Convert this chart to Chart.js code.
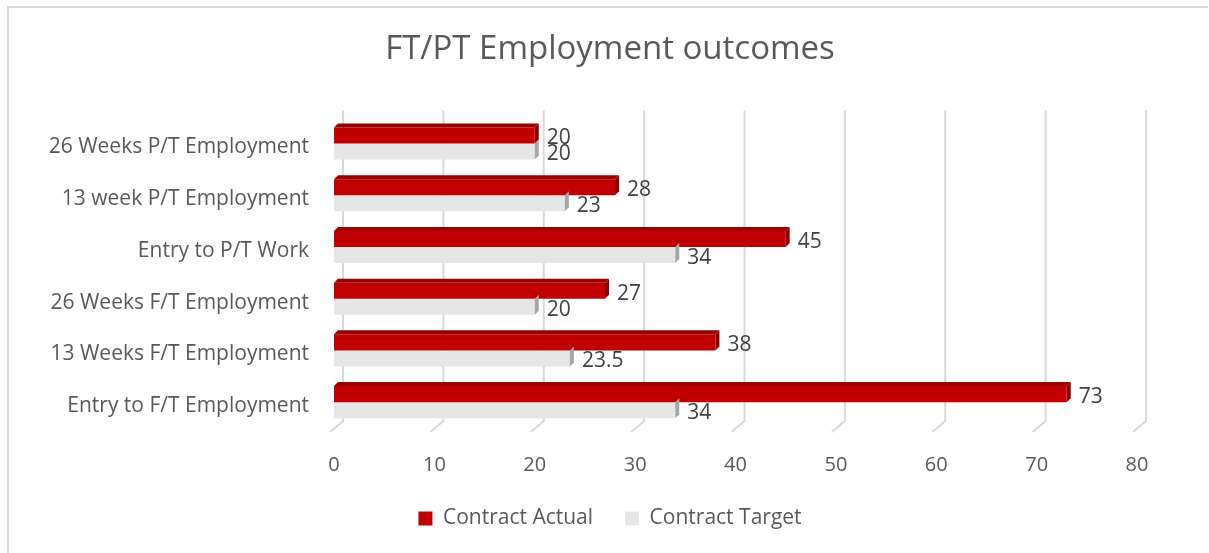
<!DOCTYPE html>
<html>
<head>
<meta charset="utf-8">
<script src="https://cdn.jsdelivr.net/npm/chart.js@4.4.1/dist/chart.umd.min.js"></script>
<style>
  html, body { margin: 0; padding: 0; background: #fff; overflow: hidden; }
  #wrap { position: relative; width: 1209px; height: 553px; }
  #frame { position: absolute; left: 7px; top: 6px; width: 1201px; height: 547px;
           border-left: 2px solid #d9d9d9; border-top: 2px solid #d9d9d9; box-sizing: border-box; }
  canvas { position: absolute; left: 0; top: 0; }
</style>
</head>
<body>
<div id="wrap">
  <div id="frame"></div>
  <canvas id="myChart" width="1209" height="553"></canvas>
</div>
<script>
  const categories = [
    '26 Weeks P/T Employment',
    '13 week P/T Employment',
    'Entry to P/T Work',
    '26 Weeks F/T Employment',
    '13 Weeks F/T Employment',
    'Entry to F/T Employment'
  ];
  const contractActual = [20, 28, 45, 27, 38, 73];
  const contractTarget = [20, 23, 34, 20, 23.5, 34];
  const xTicks = [0, 10, 20, 30, 40, 50, 60, 70, 80];

  const FONT = "'Open Sans', sans-serif";
  const DEPTH = 4;

  // 3D風のグリッド線（奥の壁）
  const gridPlugin = {
    id: 'grid3d',
    beforeDatasetsDraw(chart) {
      const ctx = chart.ctx;
      const a = chart.chartArea;
      const xs = chart.scales.x;
      ctx.save();
      ctx.strokeStyle = '#d9d9d9';
      ctx.lineWidth = 2;
      xTicks.forEach(v => {
        const x = xs.getPixelForValue(v);
        ctx.beginPath();
        ctx.moveTo(x + 9, a.top - 7);
        ctx.lineTo(x + 9, a.bottom - 7);
        ctx.lineTo(x - 4, a.bottom + 4);
        ctx.stroke();
      });
      ctx.restore();
    }
  };

  // バーの側面・上面とデータラベル
  const barPlugin = {
    id: 'bar3d',
    afterDatasetsDraw(chart) {
      const ctx = chart.ctx;
      const sides = ['#8b0000', '#a6a6a6'];
      const tops = ['#990000', '#cfcfcf'];
      ctx.save();
      chart.data.datasets.forEach((ds, di) => {
        chart.getDatasetMeta(di).data.forEach((bar, i) => {
          const top = bar.y - bar.height / 2;
          const bottom = bar.y + bar.height / 2;
          ctx.fillStyle = sides[di];
          ctx.beginPath();
          ctx.moveTo(bar.x, top);
          ctx.lineTo(bar.x + DEPTH, top - DEPTH);
          ctx.lineTo(bar.x + DEPTH, bottom - DEPTH);
          ctx.lineTo(bar.x, bottom);
          ctx.closePath();
          ctx.fill();
          if (di === 0) {
            ctx.fillStyle = tops[di];
            ctx.beginPath();
            ctx.moveTo(bar.base, top);
            ctx.lineTo(bar.base + DEPTH, top - DEPTH);
            ctx.lineTo(bar.x + DEPTH, top - DEPTH);
            ctx.lineTo(bar.x, top);
            ctx.closePath();
            ctx.fill();
          }
          ctx.fillStyle = '#404040';
          ctx.font = '21px ' + FONT;
          ctx.textAlign = 'left';
          ctx.textBaseline = 'middle';
          ctx.fillText(String(ds.data[i]), bar.x + 12, bar.y + 3);
        });
      });
      ctx.restore();
    }
  };

  const ctx = document.getElementById('myChart').getContext('2d');
  new Chart(ctx, {
    type: 'bar',
    data: {
      labels: categories,
      datasets: [
        { label: 'Contract Actual', data: contractActual, backgroundColor: '#c00000',
          barPercentage: 1, categoryPercentage: 0.62 },
        { label: 'Contract Target', data: contractTarget, backgroundColor: '#e6e6e6',
          barPercentage: 1, categoryPercentage: 0.62 }
      ]
    },
    options: {
      indexAxis: 'y',
      responsive: false,
      animation: false,
      layout: { padding: { left: 11, right: 0, top: 0, bottom: 14 } },
      scales: {
        x: {
          min: 0, max: 80,
          border: { display: false },
          grid: { display: false, drawTicks: false },
          ticks: { stepSize: 10, padding: 25, color: '#595959', font: { family: FONT, size: 20 } },
          afterFit(scale) { scale.height = 48; }
        },
        y: {
          border: { display: false },
          grid: { display: false, drawTicks: false },
          ticks: { padding: 25, labelOffset: 4, color: '#595959', font: { family: FONT, size: 21 } },
          afterFit(scale) { scale.width = 323; }
        },
        // 右側の余白用（表示なし）
        yRight: {
          type: 'category',
          position: 'right',
          border: { display: false },
          grid: { display: false, drawTicks: false },
          ticks: { display: false },
          afterFit(scale) { scale.width = 72; }
        }
      },
      plugins: {
        title: {
          display: true,
          text: 'FT/PT Employment outcomes',
          color: '#595959',
          font: { family: FONT, size: 33, weight: 'normal' },
          padding: { top: 30, bottom: 48 }
        },
        legend: {
          position: 'bottom',
          labels: {
            color: '#595959',
            font: { family: FONT, size: 21 },
            boxWidth: 14, boxHeight: 14,
            padding: 32
          }
        },
        tooltip: { enabled: false }
      }
    },
    plugins: [gridPlugin, barPlugin]
  });
</script>
</body>
</html>
